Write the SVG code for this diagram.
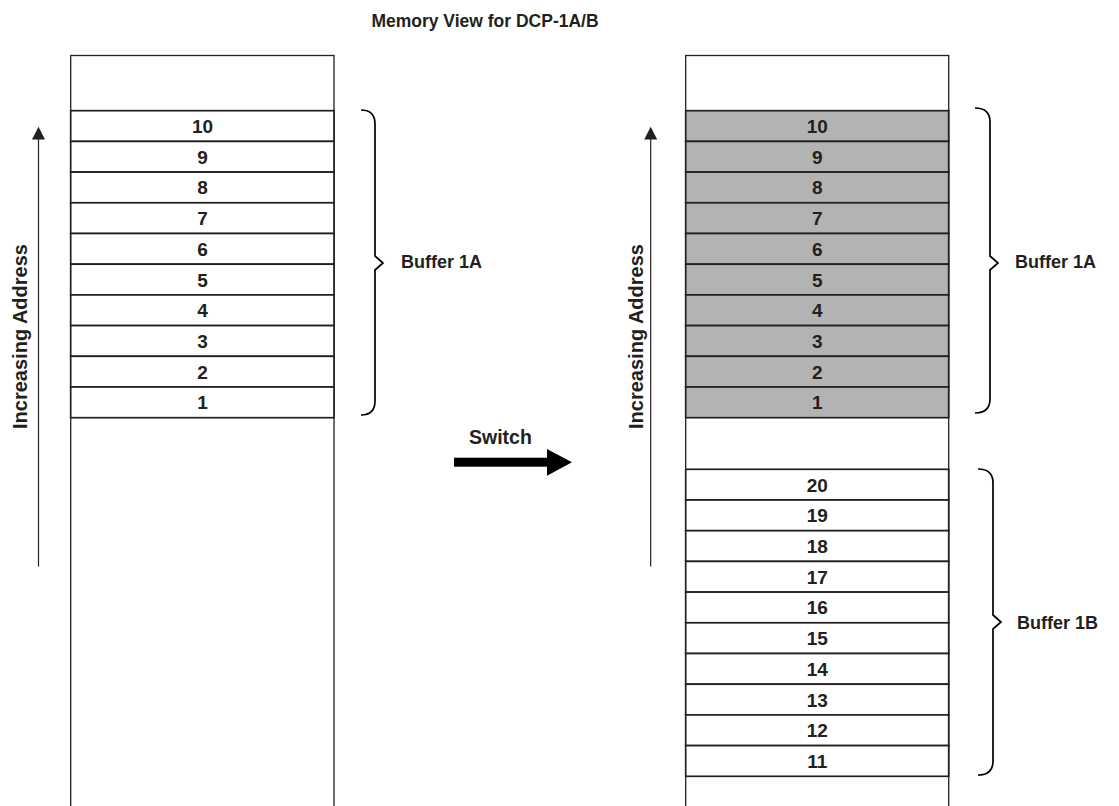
<svg xmlns="http://www.w3.org/2000/svg" width="1119" height="806" viewBox="0 0 1119 806">
<style>
text{font-family:"Liberation Sans",Arial,sans-serif;font-weight:bold;fill:#231f20}
.num{font-size:19px;text-anchor:middle}
.lbl{font-size:18px}
.col{fill:#fff;stroke:#231f20;stroke-width:1.3}
.row{fill:#fff;stroke:#231f20;stroke-width:1.7}
.g{fill:#b3b3b3;stroke:#231f20;stroke-width:1.7}
.br{fill:none;stroke:#000;stroke-width:1.7}
.ax{stroke:#231f20;stroke-width:1.2}
</style>
<rect width="1119" height="806" fill="#fff"/>
<text x="485" y="27" class="lbl" text-anchor="middle" style="font-size:17.5px">Memory View for DCP-1A/B</text>

<g id="left-memory">
<rect class="col" x="70.7" y="55.5" width="263.3" height="760"/>
<g id="left-buffer-1a">
<rect class="row" x="70.7" y="110.7" width="263.3" height="30.7"/>
<rect class="row" x="70.7" y="141.4" width="263.3" height="30.7"/>
<rect class="row" x="70.7" y="172.1" width="263.3" height="30.7"/>
<rect class="row" x="70.7" y="202.8" width="263.3" height="30.7"/>
<rect class="row" x="70.7" y="233.5" width="263.3" height="30.7"/>
<rect class="row" x="70.7" y="264.2" width="263.3" height="30.7"/>
<rect class="row" x="70.7" y="294.9" width="263.3" height="30.7"/>
<rect class="row" x="70.7" y="325.6" width="263.3" height="30.7"/>
<rect class="row" x="70.7" y="356.3" width="263.3" height="30.7"/>
<rect class="row" x="70.7" y="387.0" width="263.3" height="30.7"/>
<text class="num" x="202.5" y="133">10</text>
<text class="num" x="202.5" y="163.7">9</text>
<text class="num" x="202.5" y="194.4">8</text>
<text class="num" x="202.5" y="225.1">7</text>
<text class="num" x="202.5" y="255.8">6</text>
<text class="num" x="202.5" y="286.5">5</text>
<text class="num" x="202.5" y="317.2">4</text>
<text class="num" x="202.5" y="347.9">3</text>
<text class="num" x="202.5" y="378.6">2</text>
<text class="num" x="202.5" y="409.3">1</text>
</g>
</g>

<g id="right-memory">
<rect class="col" x="685.7" y="55.5" width="263" height="760"/>
<g id="right-buffer-1a">
<rect class="g" x="685.7" y="110.7" width="263" height="30.7"/>
<rect class="g" x="685.7" y="141.4" width="263" height="30.7"/>
<rect class="g" x="685.7" y="172.1" width="263" height="30.7"/>
<rect class="g" x="685.7" y="202.8" width="263" height="30.7"/>
<rect class="g" x="685.7" y="233.5" width="263" height="30.7"/>
<rect class="g" x="685.7" y="264.2" width="263" height="30.7"/>
<rect class="g" x="685.7" y="294.9" width="263" height="30.7"/>
<rect class="g" x="685.7" y="325.6" width="263" height="30.7"/>
<rect class="g" x="685.7" y="356.3" width="263" height="30.7"/>
<rect class="g" x="685.7" y="387.0" width="263" height="30.7"/>
<text class="num" x="817.2" y="133">10</text>
<text class="num" x="817.2" y="163.7">9</text>
<text class="num" x="817.2" y="194.4">8</text>
<text class="num" x="817.2" y="225.1">7</text>
<text class="num" x="817.2" y="255.8">6</text>
<text class="num" x="817.2" y="286.5">5</text>
<text class="num" x="817.2" y="317.2">4</text>
<text class="num" x="817.2" y="347.9">3</text>
<text class="num" x="817.2" y="378.6">2</text>
<text class="num" x="817.2" y="409.3">1</text>
</g>
<g id="right-buffer-1b">
<rect class="row" x="685.7" y="469.3" width="263" height="30.7"/>
<rect class="row" x="685.7" y="500.0" width="263" height="30.7"/>
<rect class="row" x="685.7" y="530.7" width="263" height="30.7"/>
<rect class="row" x="685.7" y="561.4" width="263" height="30.7"/>
<rect class="row" x="685.7" y="592.1" width="263" height="30.7"/>
<rect class="row" x="685.7" y="622.8" width="263" height="30.7"/>
<rect class="row" x="685.7" y="653.5" width="263" height="30.7"/>
<rect class="row" x="685.7" y="684.2" width="263" height="30.7"/>
<rect class="row" x="685.7" y="714.9" width="263" height="30.7"/>
<rect class="row" x="685.7" y="745.6" width="263" height="30.7"/>
<text class="num" x="817.2" y="491.6">20</text>
<text class="num" x="817.2" y="522.3">19</text>
<text class="num" x="817.2" y="553">18</text>
<text class="num" x="817.2" y="583.7">17</text>
<text class="num" x="817.2" y="614.4">16</text>
<text class="num" x="817.2" y="645.1">15</text>
<text class="num" x="817.2" y="675.8">14</text>
<text class="num" x="817.2" y="706.5">13</text>
<text class="num" x="817.2" y="737.2">12</text>
<text class="num" x="817.2" y="767.9">11</text>
</g>
</g>

<g id="connectors">
<line class="ax" x1="38.5" y1="138" x2="38.5" y2="566.5"/>
<polygon points="38.5,126.7 32,139.5 45,139.5" fill="#231f20"/>
<line class="ax" x1="650.7" y1="138" x2="650.7" y2="566.5"/>
<polygon points="650.7,126.7 644.2,139.5 657.2,139.5" fill="#231f20"/>
<path class="br" d="M361,110 Q375,110 375,124 V256 L383,263 L375,270 V401 Q375,415 361,415"/>
<path class="br" d="M975,108 Q990,108 990,122 V256 L998,263 L990,270 V399 Q990,413 975,413"/>
<path class="br" d="M978,469 Q993,469 993,483 V615 L1001,622 L993,629 V761 Q993,775 978,775"/>
<rect x="454" y="457.7" width="95" height="9" fill="#000"/>
<polygon points="547,449 572,462.2 547,475.7" fill="#000"/>
</g>

<g id="labels">
<text class="lbl" x="0" y="0" transform="translate(26.5,336.5) rotate(-90)" text-anchor="middle" style="font-size:20px">Increasing Address</text>
<text class="lbl" x="0" y="0" transform="translate(643,336.5) rotate(-90)" text-anchor="middle" style="font-size:20px">Increasing Address</text>
<text class="lbl" x="401" y="268">Buffer 1A</text>
<text class="lbl" x="1015" y="268">Buffer 1A</text>
<text class="lbl" x="1017" y="628.5">Buffer 1B</text>
<text class="lbl" x="469" y="444" style="font-size:19.5px">Switch</text>
</g>
</svg>
